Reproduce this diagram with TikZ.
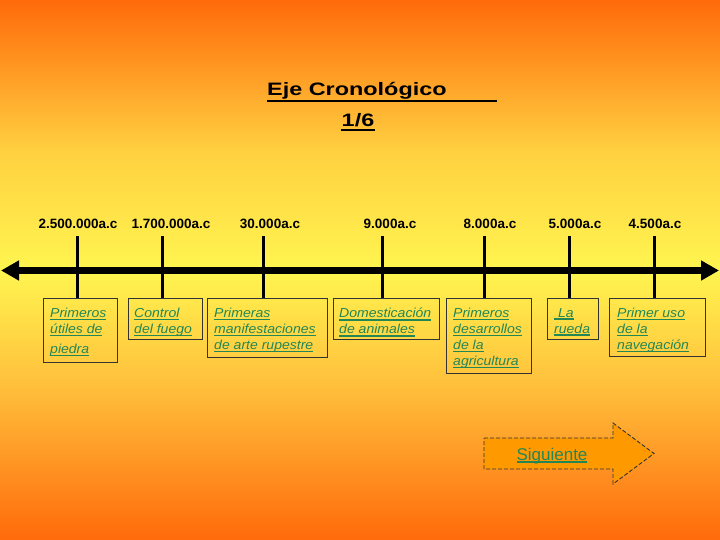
\documentclass[tikz,border=0pt]{standalone}
\usepackage{fontspec}
\setmainfont{Liberation Sans}
\newfontfamily\titlefont[FakeStretch=1.3]{Liberation Sans}
\newfontfamily\boxfont[FakeStretch=1.08]{Liberation Sans}
\usetikzlibrary{arrows.meta,calc}
\definecolor{bgA}{RGB}{255,106,10}
\definecolor{bgB}{RGB}{255,208,64}
\definecolor{bgC}{RGB}{255,245,80}
\definecolor{bgD}{RGB}{255,184,56}
\definecolor{lnk}{RGB}{35,135,85}
\definecolor{sigfill}{RGB}{255,153,0}
\newcommand{\gul}[1]{\leavevmode\setbox0\hbox{#1}\rlap{\vrule height -1.3pt depth 2.8pt width \wd0}\box0}
\tikzset{
  datelbl/.style={font=\bfseries\fontsize{13.5}{15}\selectfont, inner sep=0pt, anchor=base},
  boxframe/.style={draw=black!80, line width=0.8pt, anchor=north west, inner sep=0pt},
  boxtext/.style={font=\boxfont\itshape\fontsize{13}{16}\selectfont, text=lnk, align=left, inner sep=0pt, anchor=north west},
  tickline/.style={line width=3pt, black},
  axis/.style={line width=7pt, black, {Triangle[length=18pt,width=19pt]}-{Triangle[length=18pt,width=19pt]}},
}
\begin{document}
\begin{tikzpicture}[x=1pt,y=-1pt]
\useasboundingbox (0,0) rectangle (720,540);
% background
\shade[top color=bgA, bottom color=bgB] (0,-0.5) rectangle (720,150.5);
\shade[top color=bgB, bottom color=bgC] (0,150) rectangle (720,270.5);
\shade[top color=bgC, bottom color=bgD] (0,270) rectangle (720,400.5);
\shade[top color=bgD, bottom color=bgA] (0,400) rectangle (720,540.5);
% title
\node[inner sep=0pt, anchor=base west] (title) at (267,96) {\titlefont\bfseries\fontsize{18}{22}\selectfont Eje Cronológico};
\draw[line width=2pt] ($(title.base west)+(0,5)$) -- ++(230,0);
\node[inner sep=0pt, anchor=base] (page) at (358,127) {\titlefont\bfseries\fontsize{18}{22}\selectfont 1/6};
\draw[line width=2pt] ($(page.base west)+(-1,3)$) -- ($(page.base east)+(1,3)$);
% axis
\coordinate (L) at (1,270.5);
\coordinate (R) at (719,270.5);
\draw[axis] (L) -- (R);
% dates
\node[datelbl] (d1) at (78,229) {2.500.000a.c};
\node[datelbl] (d2) at (171,229) {1.700.000a.c};
\node[datelbl] (d3) at (270,229) {30.000a.c};
\node[datelbl] (d4) at (390,229) {9.000a.c};
\node[datelbl] (d5) at (490,229) {8.000a.c};
\node[datelbl] (d6) at (575,229) {5.000a.c};
\node[datelbl] (d7) at (655,229) {4.500a.c};
% boxes
\node[boxframe, minimum width=74pt, minimum height=64pt] (b1) at (43,298) {};
\node[boxframe, minimum width=74pt, minimum height=41pt] (b2) at (128,298) {};
\node[boxframe, minimum width=120pt, minimum height=59pt] (b3) at (207,298) {};
\node[boxframe, minimum width=106pt, minimum height=41pt] (b4) at (333,298) {};
\node[boxframe, minimum width=85pt, minimum height=75pt] (b5) at (446,298) {};
\node[boxframe, minimum width=51pt, minimum height=41pt] (b6) at (547,298) {};
\node[boxframe, minimum width=96pt, minimum height=58pt] (b7) at (609,298) {};
\node[boxtext] (t1) at ($(b1.north west)+(7,10)$) {\gul{Primeros}\\\gul{útiles de}\\[4pt]\gul{piedra}};
\node[boxtext] (t2) at ($(b2.north west)+(6,10)$) {\gul{Control}\\\gul{del fuego}};
\node[boxtext] (t3) at ($(b3.north west)+(7,10)$) {\gul{Primeras}\\\gul{manifestaciones}\\\gul{de arte rupestre}};
\node[boxtext] (t4) at ($(b4.north west)+(6,10)$) {\gul{Domesticación}\\\gul{de animales}};
\node[boxtext] (t5) at ($(b5.north west)+(7,10)$) {\gul{Primeros}\\\gul{desarrollos}\\\gul{de la}\\\gul{agricultura}};
\node[boxtext] (t6) at ($(b6.north west)+(7,10)$) {\gul{\ La}\\\gul{rueda}};
\node[boxtext] (t7) at ($(b7.north west)+(8,10)$) {\gul{Primer uso}\\\gul{de la}\\\gul{navegación}};
% ticks
\coordinate (k1) at (77,236);
\coordinate (k2) at (162,236);
\coordinate (k3) at (263,236);
\coordinate (k4) at (382,236);
\coordinate (k5) at (484,236);
\coordinate (k6) at (569,236);
\coordinate (k7) at (654,236);
\foreach \i in {1,...,7}{\draw[tickline] (k\i) -- (k\i |- b\i.north);}
% next arrow
\draw[draw=black!80, line width=0.9pt, dash pattern=on 4pt off 2pt, fill=sigfill]
  (484,438) -- (613,438) -- (613,423) -- (654,453.5) -- (613,484) -- (613,469) -- (484,469) -- cycle;
\node[inner sep=0pt, anchor=base, text=lnk, font=\fontsize{17}{20}\selectfont] (sig) at (552,460) {\gul{Siguiente}};
\end{tikzpicture}
\end{document}
